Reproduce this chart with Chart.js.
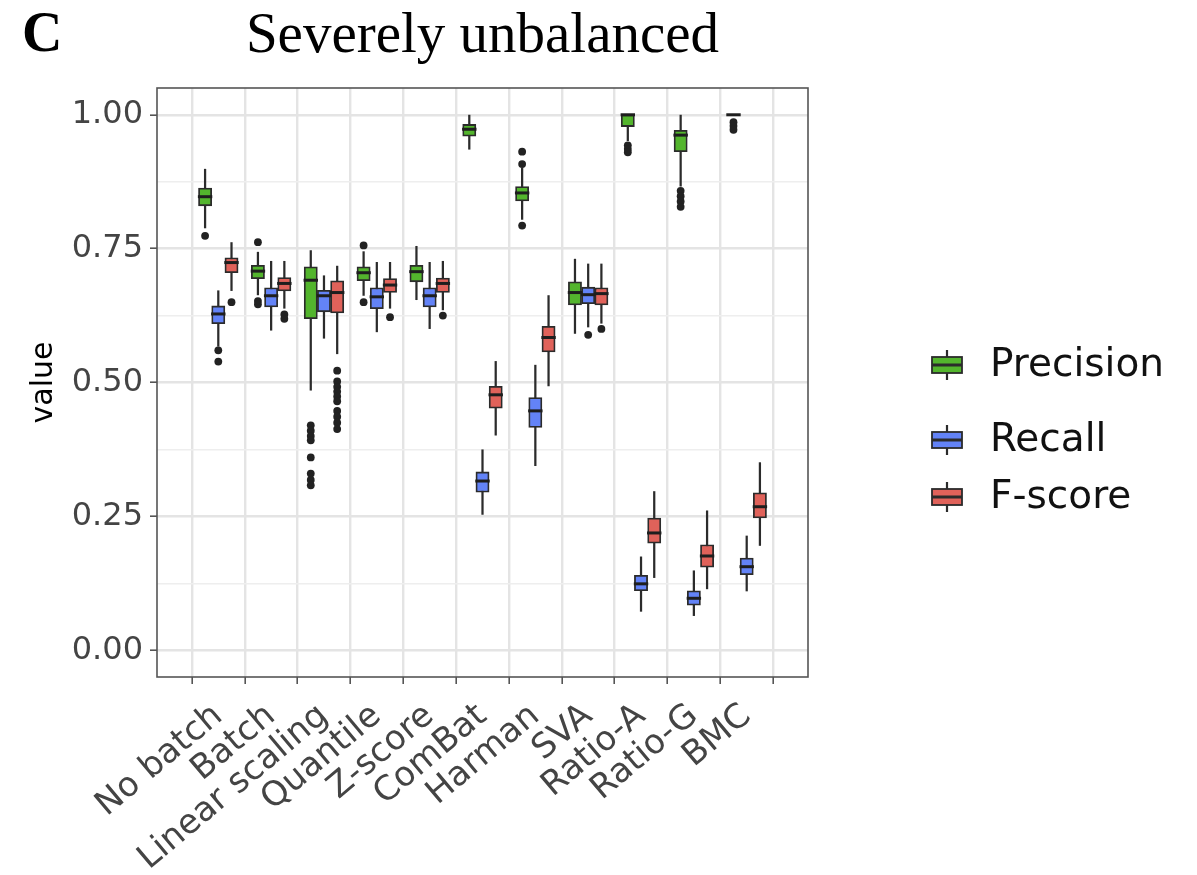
<!DOCTYPE html>
<html>
<head>
<meta charset="utf-8">
<title>Severely unbalanced</title>
<script src="https://cdn.jsdelivr.net/npm/chart.js@4.4.1/dist/chart.umd.min.js"></script>
<style>
  html, body { margin: 0; padding: 0; background: #fff; }
</style>
</head>
<body>
<canvas id="chart" width="1197" height="875"></canvas>
<script>
const categories = ['No batch', 'Batch', 'Linear scaling', 'Quantile', 'Z-score', 'ComBat', 'Harman', 'SVA', 'Ratio-A', 'Ratio-G', 'BMC'];
const seriesNames = ['Precision', 'Recall', 'F-score'];
const seriesColors = ['#53b52d', '#6383f7', '#e0625a'];
const yTickValues = [0, 0.125, 0.25, 0.375, 0.5, 0.625, 0.75, 0.875, 1];

// [lower whisker, Q1, median, Q3, upper whisker] per method
const precisionStats = [
  [0.788, 0.830, 0.847, 0.863, 0.899],
  [0.663, 0.694, 0.708, 0.719, 0.744],
  [0.485, 0.619, 0.691, 0.716, 0.747],
  [0.662, 0.690, 0.705, 0.716, 0.745],
  [0.654, 0.688, 0.707, 0.719, 0.755],
  [0.935, 0.960, 0.973, 0.982, 1.000],
  [0.804, 0.839, 0.854, 0.866, 0.901],
  [0.591, 0.645, 0.668, 0.688, 0.731],
  [0.951, 0.978, 1.000, 1.000, 1.000],
  [0.866, 0.931, 0.962, 0.971, 1.000],
  [1.000, 1.000, 1.000, 1.000, 1.000]
];
const precisionOutliers = [
  [0.774],
  [0.762, 0.652, 0.646],
  [0.420, 0.410, 0.400, 0.392, 0.360, 0.330, 0.318, 0.308],
  [0.756, 0.650],
  [],
  [],
  [0.931, 0.908, 0.793],
  [],
  [0.943, 0.936, 0.930],
  [0.858, 0.848, 0.838, 0.828],
  [0.986, 0.979, 0.972]
];

const recallStats = [
  [0.567, 0.610, 0.628, 0.643, 0.672],
  [0.597, 0.641, 0.662, 0.677, 0.727],
  [0.582, 0.632, 0.662, 0.672, 0.700],
  [0.594, 0.638, 0.660, 0.677, 0.725],
  [0.600, 0.641, 0.662, 0.677, 0.725],
  [0.253, 0.295, 0.316, 0.333, 0.375],
  [0.344, 0.416, 0.447, 0.472, 0.533],
  [0.603, 0.647, 0.664, 0.678, 0.722],
  [0.072, 0.111, 0.124, 0.140, 0.175],
  [0.064, 0.084, 0.097, 0.111, 0.149],
  [0.110, 0.141, 0.156, 0.172, 0.214]
];
const recallOutliers = [
  [0.560, 0.539], [], [], [], [], [], [], [0.589], [], [], []
];

const fscoreStats = [
  [0.671, 0.705, 0.724, 0.733, 0.762],
  [0.638, 0.671, 0.685, 0.696, 0.727],
  [0.553, 0.630, 0.668, 0.690, 0.718],
  [0.638, 0.668, 0.682, 0.694, 0.725],
  [0.635, 0.668, 0.685, 0.695, 0.727],
  [0.401, 0.452, 0.477, 0.493, 0.540],
  [0.493, 0.557, 0.584, 0.605, 0.663],
  [0.610, 0.645, 0.666, 0.677, 0.722],
  [0.135, 0.200, 0.219, 0.247, 0.297],
  [0.114, 0.155, 0.176, 0.197, 0.261],
  [0.195, 0.247, 0.268, 0.294, 0.351]
];
const fscoreOutliers = [
  [0.650],
  [0.627, 0.619],
  [0.522, 0.502, 0.492, 0.483, 0.474, 0.465, 0.447, 0.436, 0.425, 0.413],
  [0.622],
  [0.625],
  [], [], [0.600], [], [], []
];

const statsBySeries = [precisionStats, recallStats, fscoreStats];
const outliersBySeries = [precisionOutliers, recallOutliers, fscoreOutliers];
const dodge = [-0.25, 0, 0.25];

const ink = '#444';
const edge = '#2b2b2b';

const datasets = [];
seriesNames.forEach((name, s) => {
  const stats = statsBySeries[s];
  const pos = i => i + dodge[s];
  datasets.push({
    type: 'bar',
    label: name + ' whisker',
    data: stats.map((d, i) => ({ x: pos(i), y: [d[0], d[4]] })),
    backgroundColor: edge,
    borderWidth: 0,
    grouped: false,
    categoryPercentage: 1,
    barPercentage: 0.17,
    order: 4
  });
  datasets.push({
    type: 'bar',
    label: name,
    data: stats.map((d, i) => ({ x: pos(i), y: [d[1], d[3]] })),
    backgroundColor: seriesColors[s],
    borderColor: edge,
    borderWidth: 1.8,
    borderSkipped: false,
    grouped: false,
    categoryPercentage: 1,
    barPercentage: 1,
    order: 3
  });
  datasets.push({
    type: 'scatter',
    label: name + ' median',
    data: stats.map((d, i) => ({ x: pos(i), y: d[2] })),
    pointStyle: 'line',
    pointRadius: 7.2,
    pointBorderColor: '#1e1e1e',
    pointBorderWidth: 3,
    order: 2
  });
  datasets.push({
    type: 'scatter',
    label: name + ' outliers',
    data: outliersBySeries[s].flatMap((vals, i) => vals.map(v => ({ x: pos(i), y: v }))),
    pointRadius: 3.9,
    pointBackgroundColor: '#222',
    pointBorderColor: '#222',
    pointBorderWidth: 0,
    order: 1
  });
});

const panelBorder = {
  id: 'panelBorder',
  afterDatasetsDraw(chart) {
    const { ctx, chartArea: a } = chart;
    ctx.save();
    ctx.strokeStyle = '#555';
    ctx.lineWidth = 1.6;
    ctx.strokeRect(a.left, a.top, a.right - a.left, a.bottom - a.top);
    ctx.restore();
  }
};

// panel letter + ggplot-style legend with boxplot keys, placed right of the panel
const decorations = {
  id: 'decorations',
  afterDraw(chart) {
    const { ctx, chartArea: a } = chart;
    ctx.save();
    ctx.font = 'bold 56px "Liberation Serif"';
    ctx.fillStyle = '#000';
    ctx.textBaseline = 'alphabetic';
    ctx.fillText('C', 22, 51);

    const rowY = [365, 440, 497];
    const keyLeft = a.right + 124, keyW = 30, keyH = 16;
    seriesNames.forEach((name, s) => {
      const cy = rowY[s], cx = keyLeft + keyW / 2;
      ctx.strokeStyle = edge;
      ctx.lineWidth = 2.2;
      ctx.beginPath(); ctx.moveTo(cx, cy - 15); ctx.lineTo(cx, cy + 15); ctx.stroke();
      ctx.fillStyle = seriesColors[s];
      ctx.fillRect(keyLeft, cy - keyH / 2, keyW, keyH);
      ctx.lineWidth = 1.8;
      ctx.strokeRect(keyLeft, cy - keyH / 2, keyW, keyH);
      ctx.lineWidth = 3;
      ctx.beginPath(); ctx.moveTo(keyLeft, cy); ctx.lineTo(keyLeft + keyW, cy); ctx.stroke();
      ctx.fillStyle = '#111';
      ctx.font = '39px "DejaVu Sans"';
      ctx.textBaseline = 'middle';
      ctx.fillText(name, a.right + 182, cy + 1);
    });
    ctx.restore();
  }
};

new Chart(document.getElementById('chart'), {
  type: 'bar',
  data: { datasets },
  plugins: [panelBorder, decorations],
  options: {
    responsive: false,
    animation: false,
    events: [],
    layout: { padding: { left: 0, right: 389, top: 0, bottom: 0 } },
    plugins: {
      tooltip: { enabled: false },
      legend: { display: false },
      title: {
        display: true,
        text: 'Severely unbalanced',
        fullSize: false,
        color: '#000',
        font: { family: 'Liberation Serif', size: 57, weight: 'normal', lineHeight: 1.2 },
        padding: { top: 3, bottom: 16.6 }
      }
    },
    scales: {
      x: {
        type: 'linear',
        min: -0.6,
        max: categories.length - 0.4,
        afterBuildTicks: scale => { scale.ticks = categories.map((_, i) => ({ value: i })); },
        afterFit: scale => { scale.height = 198; },
        ticks: {
          autoSkip: false,
          minRotation: 40,
          maxRotation: 40,
          padding: 12,
          color: ink,
          font: { family: 'DejaVu Sans', size: 34 },
          callback: v => categories[v]
        },
        grid: { color: '#e4e4e4', lineWidth: 2.4, tickLength: 7, tickColor: '#555', tickWidth: 1.6 },
        border: { display: false }
      },
      y: {
        min: -0.05,
        max: 1.05,
        afterBuildTicks: scale => { scale.ticks = yTickValues.map(v => ({ value: v })); },
        afterFit: scale => { scale.width = 157; },
        ticks: {
          padding: 7,
          color: ink,
          font: { family: 'DejaVu Sans', size: 32 },
          callback: (v, i) => (i % 2 ? '' : v.toFixed(2))
        },
        grid: {
          color: c => (c.index % 2 ? '#eeeeee' : '#e4e4e4'),
          lineWidth: c => (c.index % 2 ? 1.4 : 2.4),
          tickLength: 7,
          tickColor: c => (c.index % 2 ? 'rgba(0,0,0,0)' : '#555'),
          tickWidth: 1.6
        },
        border: { display: false },
        title: {
          display: true,
          text: 'value',
          color: '#000',
          font: { family: 'DejaVu Sans', size: 30 },
          padding: { top: 26, bottom: 0 }
        }
      }
    }
  }
});
</script>
</body>
</html>
